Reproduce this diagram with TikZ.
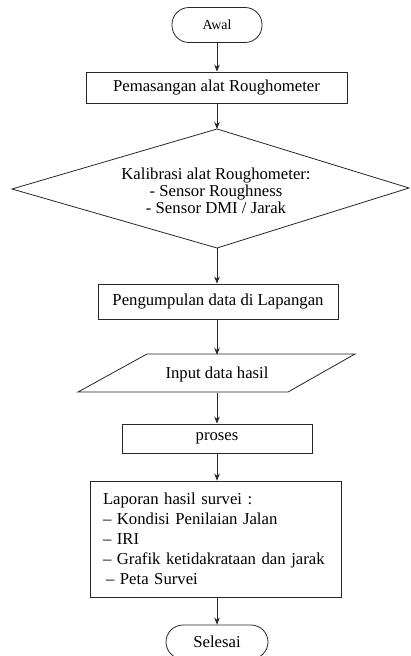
\documentclass[tikz,border=0pt]{standalone}
\usepackage{fontspec}
\setmainfont{Liberation Serif}
\usetikzlibrary{arrows.meta,calc}
\begin{document}
\begin{tikzpicture}[x=1pt,y=-1pt,
  every node/.style={font=\fontsize{16.7}{17}\selectfont, text=black},
  ln/.style={draw=black!85, line width=0.8pt},
  term/.style={ln, rectangle, rounded corners=17pt, inner sep=0pt},
  proc/.style={ln, rectangle, inner sep=0pt},
  arr/.style={ln, -{Stealth[length=7pt,width=5.5pt]}}]
\useasboundingbox (0,0) rectangle (410,656);
\clip (0,0) rectangle (410,656);
\node (awal) [term, minimum width=90pt, minimum height=35pt, font=\fontsize{13.9}{14}\selectfont] at (217,25) {Awal};
\node (pem) [proc, minimum width=261pt, minimum height=31pt] at (216.5,87.5) {Pemasangan alat Roughometer};
\draw[ln] (217,129) -- (409,188) -- (217,248) -- (12,189) -- cycle;
\coordinate (kaltop) at (217,129);
\coordinate (kalbot) at (217,248);
\node (kal) [align=center, inner sep=0pt] at (216,191) {Kalibrasi alat Roughometer:\\- Sensor Roughness\\- Sensor DMI / Jarak};
\node (pen) [proc, minimum width=240pt, minimum height=35pt] at (218,301.5) {Pengumpulan data di Lapangan};
\draw[ln] (147,354) -- (355,354) -- (288,392) -- (78,392) -- cycle;
\node (inp) [inner sep=0pt, minimum height=38pt, minimum width=208pt] at (217,374) {Input data hasil};
\node (pro) [proc, minimum width=190pt, minimum height=29pt] at (217,438.5) {proses};
\node (lap) [proc, minimum width=251pt, minimum height=116pt, text width=225pt, align=left, font=\fontsize{16.7}{20}\selectfont] at (215.5,539) {Laporan hasil survei :\\– Kondisi Penilaian Jalan\\– IRI\\– Grafik ketidakrataan dan jarak\\\hspace*{3pt}– Peta Survei};
\node (sel) [term, minimum width=102pt, minimum height=34pt] at (217,642) {Selesai};
\draw[arr] (awal.south) -- (awal.south |- pem.north);
\draw[arr] (pem.south -| kaltop) -- (kaltop);
\draw[arr] (kalbot) -- (kalbot |- pen.north);
\draw[arr] (pen.south -| inp) -- (inp.north);
\draw[arr] (inp.south) -- (inp.south |- pro.north);
\draw[arr] (pro.south) -- (pro.south |- lap.north);
\draw[arr] (lap.south -| sel) -- (sel.north);
\end{tikzpicture}
\end{document}
